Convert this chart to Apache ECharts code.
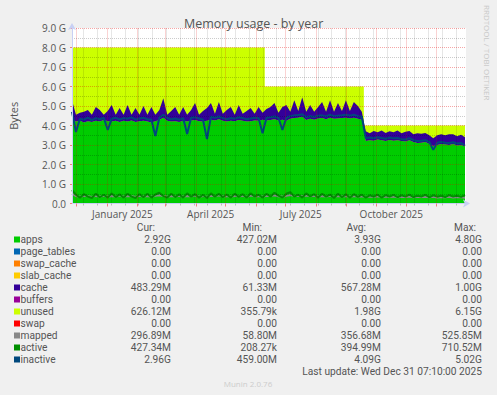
<!DOCTYPE html>
<html><head><meta charset="utf-8">
<script src="https://cdn.jsdelivr.net/npm/echarts@6/dist/echarts.min.js"></script>
<style>html,body{margin:0;padding:0;background:#F0F0F0;}#c{width:497px;height:395px;}</style>
</head><body><div id="c"></div>
<script>
// ---------- DATA ----------
const DAY = 86400000;
const startTime = Date.UTC(2024, 10, 26, 7, 10);
const endTime = Date.UTC(2025, 11, 31, 7, 10);
const sampleStepDays = 399 / 99;

// memory size (the top of the "unused" area), in G, as a step function
const totalTimes = [Date.UTC(2024,10,26,7,10), Date.UTC(2025,5,10,0,0), Date.UTC(2025,8,18,14,0), Date.UTC(2025,11,30,7,10)];
const totalValues = [8, 6, 4, 4];

const apps = [
4.30,4.20,4.25,4.15,4.22,4.18,4.25,4.20,4.28,4.22,
4.20,4.25,4.18,4.24,4.20,4.26,4.18,4.22,4.25,4.20,
4.15,4.22,4.28,4.40,4.25,4.20,4.22,4.18,4.24,4.20,
4.26,4.28,4.22,4.20,4.25,4.30,4.26,4.32,4.24,4.20,
4.25,4.22,4.28,4.24,4.20,4.22,4.26,4.24,4.30,4.26,
4.28,4.32,4.26,4.30,4.25,4.35,4.38,4.40,4.45,4.28,
4.34,4.30,4.36,4.38,4.32,4.40,4.35,4.36,4.38,4.40,
4.36,4.40,4.34,4.30,3.20,3.25,3.22,3.28,3.24,3.20,
3.26,3.22,3.25,3.20,3.18,3.24,3.15,3.10,3.12,3.15,
3.05,2.95,3.00,3.05,3.02,3.00,3.05,2.98,3.00,2.92];

const cache = [
1.00,0.35,0.40,0.55,0.58,0.37,0.70,0.60,0.27,0.53,
0.85,0.30,0.72,0.31,0.85,0.29,0.72,0.33,0.75,0.35,
0.80,0.33,0.52,1.00,0.30,0.55,0.73,0.37,0.71,0.35,
0.54,0.87,0.33,0.55,0.65,0.85,0.34,0.88,0.36,0.60,
0.70,0.33,0.77,0.36,0.55,0.68,0.34,0.71,0.35,0.59,
0.67,0.83,0.39,0.65,0.80,0.35,0.92,0.35,1.00,0.42,
0.71,0.40,0.59,0.82,0.38,0.90,0.35,0.79,0.37,0.90,
0.39,0.80,0.66,0.40,0.50,0.35,0.50,0.37,0.51,0.42,
0.44,0.43,0.50,0.40,0.50,0.48,0.40,0.50,0.46,0.47,
0.45,0.40,0.50,0.50,0.48,0.55,0.50,0.47,0.52,0.48];

const mapped = [
0.50,0.38,0.35,0.40,0.37,0.34,0.39,0.36,0.40,0.35,
0.38,0.36,0.41,0.35,0.39,0.37,0.34,0.40,0.36,0.38,
0.35,0.40,0.42,0.38,0.35,0.39,0.36,0.40,0.35,0.38,
0.37,0.41,0.35,0.39,0.34,0.40,0.37,0.42,0.36,0.38,
0.35,0.40,0.37,0.39,0.34,0.41,0.37,0.38,0.35,0.40,
0.38,0.42,0.37,0.35,0.40,0.43,0.38,0.40,0.36,0.41,
0.37,0.40,0.35,0.39,0.36,0.40,0.34,0.38,0.36,0.39,
0.35,0.38,0.36,0.37,0.33,0.36,0.34,0.37,0.33,0.35,
0.34,0.36,0.32,0.35,0.33,0.36,0.32,0.34,0.33,0.35,
0.32,0.34,0.31,0.33,0.32,0.34,0.31,0.33,0.32,0.30];

const active = [
0.69,0.45,0.30,0.48,0.35,0.28,0.50,0.32,0.45,0.30,
0.52,0.33,0.47,0.30,0.50,0.35,0.28,0.48,0.32,0.50,
0.30,0.46,0.55,0.38,0.30,0.50,0.33,0.47,0.30,0.52,
0.35,0.48,0.30,0.45,0.28,0.52,0.35,0.50,0.32,0.46,
0.30,0.50,0.34,0.48,0.30,0.52,0.36,0.45,0.30,0.50,
0.35,0.55,0.40,0.30,0.50,0.58,0.35,0.45,0.30,0.52,
0.36,0.48,0.30,0.50,0.35,0.46,0.28,0.50,0.32,0.47,
0.30,0.48,0.34,0.45,0.30,0.42,0.35,0.45,0.30,0.43,
0.36,0.44,0.32,0.42,0.35,0.45,0.33,0.40,0.36,0.44,
0.32,0.42,0.35,0.40,0.33,0.43,0.36,0.40,0.34,0.43];

const inactive = [
4.70,3.67,4.35,4.30,4.40,4.28,4.38,4.32,4.40,3.77,
4.35,4.40,4.30,4.38,4.35,4.42,4.30,4.36,4.40,4.32,
4.30,3.46,4.40,4.55,4.38,4.32,4.36,4.30,4.38,3.56,
4.40,4.42,4.36,4.30,3.30,4.45,4.40,4.46,4.38,4.32,
4.38,4.35,4.42,4.38,4.32,4.36,4.40,4.38,3.60,4.40,
4.42,4.46,4.40,3.77,4.40,4.48,4.52,4.54,4.58,4.42,
4.48,4.44,4.50,4.52,4.46,4.55,4.48,4.50,4.52,4.55,
4.50,4.55,4.48,4.45,3.35,3.38,3.35,3.40,3.36,3.32,
3.38,3.34,3.36,3.30,3.28,3.35,3.25,3.20,3.22,3.25,
3.15,2.75,3.12,3.15,3.12,3.10,3.14,3.08,3.10,2.96];

const xLabelMonths = [[2025,0],[2025,3],[2025,6],[2025,9]];
const xLabels = ['January 2025','April 2025','July 2025','October 2025'];

const legendNames = ['apps','page_tables','swap_cache','slab_cache','cache','buffers','unused','swap','mapped','active','inactive'];
const curValues = ['2.92G','0.00','0.00','0.00','483.29M','0.00','626.12M','0.00','296.89M','427.34M','2.96G'];
const minValues = ['427.02M','0.00','0.00','0.00','61.33M','0.00','355.79k','0.00','58.80M','208.27k','459.00M'];
const avgValues = ['3.93G','0.00','0.00','0.00','567.28M','0.00','1.98G','0.00','356.68M','394.99M','4.09G'];
const maxValues = ['4.80G','0.00','0.00','0.00','1.00G','0.00','6.15G','0.00','525.85M','710.52M','5.02G'];
const headers = ['Cur:','Min:','Avg:','Max:'];
const lastUpdate = 'Last update: Wed Dec 31 07:10:00 2025';
const footer = 'Munin 2.0.76';
const sideText = 'RRDTOOL / TOBI OETIKER';
const titleText = 'Memory usage - by year';

// ---------- STYLE ----------
const legendColors = ['#00CC00','#0066B3','#FF8000','#FFCC00','#330099','#990099','#CCFF00','#FF0000','#888888','#008F00','#00487D'];
const FONT = "'Open Sans', sans-serif";
const TFONT = "Roboto, sans-serif";
const TXT = '#555';
const MAJOR = 'rgba(225,0,0,0.35)';
const MINOR = 'rgba(0,0,0,0.2)';
const AXIS = '#C8D0F4';

// ---------- BUILD ----------
const times = apps.map((_, i) => startTime + i * sampleStepDays * DAY);
const pts = arr => arr.map((v, i) => [times[i], v]);

const monthStarts = [];
for (let k = 0; k <= 12; k++) monthStarts.push(Date.UTC(2024, 11 + k, 1));
const biweekly = [];
for (let t = Date.UTC(2024, 11, 8); t < endTime; t += 14 * DAY) biweekly.push(t);
const labelTimes = xLabelMonths.map(([y, m]) => (Date.UTC(y, m, 1) + Date.UTC(y, m + 1, 1)) / 2);

const chart = echarts.init(document.getElementById('c'), null, {renderer: 'svg'});

const graphics = [];
const rowY0 = 239.5, rowDy = 12;
const colRight = [171, 277, 381, 482];
const headerRight = [155, 262, 366, 476];
const tStyle = (text, align) => ({text: text, fill: TXT, font: '10.2px ' + TFONT, lineHeight: 10,
  textAlign: align, textVerticalAlign: 'middle'});
headers.forEach((h, j) => graphics.push({type:'text', x: headerRight[j], y: 227.5, style: tStyle(h, 'right')}));
legendNames.forEach((n, i) => {
  const y = rowY0 + i * rowDy;
  graphics.push({type:'rect', shape:{x:14, y:y - 3, width:6, height:6}, style:{fill:legendColors[i]}});
  graphics.push({type:'text', x:20.5, y:y, style: tStyle(n, 'left')});
  [curValues, minValues, avgValues, maxValues].forEach((col, j) => {
    graphics.push({type:'text', x: colRight[j], y: y, style: tStyle(col[i], 'right')});
  });
});
graphics.push({type:'text', x:482, y: rowY0 + 11 * rowDy - 0.5, style: tStyle(lastUpdate, 'right')});
graphics.push({type:'text', x:248, y:383.5, style:{text:footer, fill:'#ccc', font:'8px ' + FONT, lineHeight: 8, textAlign:'center', textVerticalAlign:'middle'}});
graphics.push({type:'text', x:487, y:5, rotation:-Math.PI/2, style:{text:sideText, fill:'#c8c8c8', font:'8px ' + FONT, lineHeight: 8, textAlign:'left', textVerticalAlign:'middle'}});

const gridMarks = monthStarts.map(t => ({xAxis: t, lineStyle:{color: MAJOR, type:[1,1], width:1}}))
  .concat(biweekly.map(t => ({xAxis: t, lineStyle:{color: MINOR, type:[1,1], width:1}})));

const option = {
  backgroundColor: '#F0F0F0',
  animation: false,
  textStyle: {fontFamily: FONT},
  title: {text: titleText, left: 179, top: 12, textStyle: {color: TXT, fontSize: 12.5, fontWeight: 'normal', fontFamily: FONT}},
  grid: {left: 66, top: 28, width: 400, height: 175.5, show: true, backgroundColor: '#fff', borderWidth: 0},
  xAxis: [{
    type: 'time', min: startTime, max: endTime, z: 10,
    axisLine: {show: true, lineStyle: {color: AXIS}, symbol: ['none', 'arrow'], symbolSize: [6, 7], symbolOffset: [0, 4]},
    axisTick: {show: false}, axisLabel: {show: false}, splitLine: {show: false}
  }, {
    type: 'value', min: startTime, max: endTime, position: 'bottom', z: 10,
    axisLine: {show: false},
    axisTick: {show: true, customValues: monthStarts, length: 3, lineStyle: {color: '#f08080'}},
    axisLabel: {show: true, customValues: labelTimes, hideOverlap: false, color: TXT, fontSize: 10, margin: 5,
      formatter: v => { const k = labelTimes.indexOf(v); return k >= 0 ? xLabels[k] : ''; }},
    splitLine: {show: false}
  }, {
    type: 'value', min: startTime, max: endTime, position: 'bottom', z: 10,
    axisLine: {show: false},
    axisTick: {show: true, customValues: biweekly, length: 2, lineStyle: {color: '#bbb'}},
    axisLabel: {show: false}, splitLine: {show: false}
  }],
  yAxis: {
    type: 'value', min: 0, max: 9, interval: 1, z: 10,
    name: 'Bytes', nameLocation: 'middle', nameGap: 53, nameRotate: 90,
    nameTextStyle: {color: TXT, fontSize: 11, fontFamily: FONT},
    axisLine: {show: true, lineStyle: {color: AXIS}, symbol: ['none', 'arrow'], symbolSize: [6, 7], symbolOffset: [0, 5]},
    axisTick: {show: true, length: 2, lineStyle: {color: '#f08080'}},
    axisLabel: {color: TXT, fontSize: 10, margin: 6, formatter: v => v === 0 ? '0.0' : v.toFixed(1) + ' G'},
    splitLine: {show: true, lineStyle: {color: MAJOR, type: [1, 1]}},
    minorTick: {show: false, splitNumber: 2},
    minorSplitLine: {show: true, lineStyle: {color: MINOR, type: [1, 1]}}
  },
  series: [
    {name: 'unused', type: 'line', step: 'end', data: totalTimes.map((t, i) => [t, totalValues[i]]), symbol: 'none',
     lineStyle: {width: 0}, areaStyle: {color: legendColors[6], opacity: 1}, z: 1, silent: true},
    {name: 'apps', type: 'line', stack: 'mem', data: pts(apps), symbol: 'none',
     lineStyle: {width: 0}, areaStyle: {color: legendColors[0], opacity: 1}, z: 2, silent: true},
    {name: 'cache', type: 'line', stack: 'mem', data: pts(cache), symbol: 'none',
     lineStyle: {width: 0}, areaStyle: {color: legendColors[4], opacity: 1}, z: 2, silent: true},
    {name: 'mapped', type: 'line', data: pts(mapped), symbol: 'none', lineStyle: {width: 2, color: legendColors[8]}, z: 3, silent: true},
    {name: 'active', type: 'line', data: pts(active), symbol: 'none', lineStyle: {width: 2, color: legendColors[9]}, z: 3, silent: true},
    {name: 'inactive', type: 'line', data: pts(inactive), symbol: 'none', lineStyle: {width: 2, color: legendColors[10]}, z: 3, silent: true},
    {name: 'grid', type: 'line', data: [[startTime, 0], [endTime, 0]], symbol: 'none', lineStyle: {opacity: 0}, z: 9, silent: true,
     markLine: {silent: true, symbol: ['none', 'none'], label: {show: false}, animation: false, data: gridMarks}}
  ],
  graphic: graphics
};
chart.setOption(option);
</script>
</body></html>
